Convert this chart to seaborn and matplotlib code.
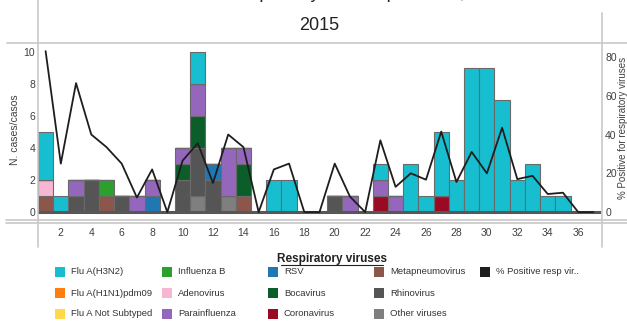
import numpy as np
import pandas as pd
import matplotlib
matplotlib.use('Agg')
import matplotlib.pyplot as plt
from matplotlib.lines import Line2D
from matplotlib.patches import Rectangle
import seaborn as sns

sns.set_style("white")
plt.rcParams['font.family'] = ['Liberation Sans', 'DejaVu Sans']

# ============================================================
# Data (weeks 1-37)
# ============================================================
weeks = list(range(1, 38))
flu_h3n2    = [3, 1, 0, 0, 0, 0, 0, 0, 0, 0, 2, 0, 0, 0, 0, 2, 2, 0, 0, 0, 0, 0, 1, 0, 3, 1, 4, 2, 9, 9, 7, 2, 3, 1, 1, 0, 0]
flu_h1n1    = [0] * 37
flu_notsub  = [0] * 37
influenza_b = [0, 0, 0, 0, 1, 0, 0, 0, 0, 0, 0, 0, 0, 0, 0, 0, 0, 0, 0, 0, 0, 0, 0, 0, 0, 0, 0, 0, 0, 0, 0, 0, 0, 0, 0, 0, 0]
adenovirus  = [1, 0, 0, 0, 0, 0, 0, 0, 0, 0, 0, 0, 0, 0, 0, 0, 0, 0, 0, 0, 0, 0, 0, 0, 0, 0, 0, 0, 0, 0, 0, 0, 0, 0, 0, 0, 0]
parainfl    = [0, 0, 1, 0, 0, 0, 1, 1, 0, 1, 2, 0, 3, 1, 0, 0, 0, 0, 0, 0, 1, 0, 1, 1, 0, 0, 0, 0, 0, 0, 0, 0, 0, 0, 0, 0, 0]
rsv         = [0, 0, 0, 0, 0, 0, 0, 1, 0, 0, 0, 1, 0, 0, 0, 0, 0, 0, 0, 0, 0, 0, 0, 0, 0, 0, 0, 0, 0, 0, 0, 0, 0, 0, 0, 0, 0]
bocavirus   = [0, 0, 0, 0, 0, 0, 0, 0, 0, 1, 2, 0, 0, 2, 0, 0, 0, 0, 0, 0, 0, 0, 0, 0, 0, 0, 0, 0, 0, 0, 0, 0, 0, 0, 0, 0, 0]
coronavirus = [0, 0, 0, 0, 0, 0, 0, 0, 0, 0, 0, 0, 0, 0, 0, 0, 0, 0, 0, 0, 0, 0, 1, 0, 0, 0, 1, 0, 0, 0, 0, 0, 0, 0, 0, 0, 0]
metapneumo  = [1, 0, 0, 0, 1, 0, 0, 0, 0, 0, 0, 0, 0, 1, 0, 0, 0, 0, 0, 0, 0, 0, 0, 0, 0, 0, 0, 0, 0, 0, 0, 0, 0, 0, 0, 0, 0]
rhinovirus  = [0, 0, 1, 2, 0, 1, 0, 0, 0, 2, 3, 2, 0, 0, 0, 0, 0, 0, 0, 1, 0, 0, 0, 0, 0, 0, 0, 0, 0, 0, 0, 0, 0, 0, 0, 0, 0]
other_vir   = [0, 0, 0, 0, 0, 0, 0, 0, 0, 0, 1, 0, 1, 0, 0, 0, 0, 0, 0, 0, 0, 0, 0, 0, 0, 0, 0, 0, 0, 0, 0, 0, 0, 0, 0, 0, 0]
pct_positive = [83, 25, 66.5, 40, 33.5, 25, 7.5, 22, 0, 26.5, 35.5, 15, 40, 33.5, 0, 22, 25, 0, 0, 25,
                8, 0, 37, 13, 20, 16.7, 41.5, 15.5, 31, 20, 43.5, 17, 18.7, 9.3, 10, 0, 0]

virus_names = ['Flu A(H3N2)', 'Flu A(H1N1)pdm09', 'Flu A Not Subtyped', 'Influenza B', 'Adenovirus',
               'Parainfluenza', 'RSV', 'Bocavirus', 'Coronavirus', 'Metapneumovirus', 'Rhinovirus',
               'Other viruses']
virus_counts = [flu_h3n2, flu_h1n1, flu_notsub, influenza_b, adenovirus, parainfl, rsv, bocavirus,
                coronavirus, metapneumo, rhinovirus, other_vir]
virus_colors = ['#17becf', '#ff7f0e', '#ffd94a', '#2ca02c', '#f7b6d2', '#9467bd', '#1f77b4',
                '#0b5e2a', '#9b0a25', '#8c564b', '#555555', '#7f7f7f']
line_label = '% Positive resp vir..'
line_color = '#1e1e1e'

df = pd.DataFrame([(w, name, c) for name, vals in zip(virus_names, virus_counts)
                   for w, c in zip(weeks, vals)], columns=['week', 'virus', 'count'])

# ============================================================
# Figure
# ============================================================
W, H = 627, 322
fig = plt.figure(figsize=(W / 100, H / 100), dpi=100)
ax = fig.add_axes([38 / W, 1 - 221 / H, (601 - 38) / W, (221 - 43) / H])

sns.histplot(data=df, x='week', weights='count', hue='virus', hue_order=virus_names,
             palette=dict(zip(virus_names, virus_colors)), multiple='stack', discrete=True,
             shrink=1, alpha=1, edgecolor='#6a6a6a', linewidth=0.8, legend=False, ax=ax)
ax.axhline(0, color='#575757', lw=2.2, zorder=5)
ax.set_xlim(0.5, 37.5)
ax.set_ylim(-0.56, 10.56)
ax.set_xticks(range(2, 37, 2))
ax.set_yticks(range(0, 11, 2))
ax.set_xlabel(''); ax.set_ylabel('')
ax.tick_params(length=0, labelsize=7.5, labelcolor='#404040')
ax.tick_params(axis='x', pad=5)
ax.tick_params(axis='y', pad=2)
for s in ax.spines.values():
    s.set_visible(False)

ax2 = ax.twinx()
sns.lineplot(x=weeks, y=pct_positive, ax=ax2, color=line_color, lw=1.3)
ax2.set_ylim(-4.6, 87.2)
ax2.set_yticks(range(0, 81, 20))
ax2.tick_params(length=0, labelsize=7.5, labelcolor='#404040', pad=3)
for s in ax2.spines.values():
    s.set_visible(False)

# frame lines (table-like)
def px_line(x0, y0, x1, y1, color='#c8c8c8', lw=1.2):
    fig.add_artist(Line2D([x0 / W, x1 / W], [1 - y0 / H, 1 - y1 / H], color=color, lw=lw,
                          transform=fig.transFigure))

px_line(38, 0, 38, 247)
px_line(602, 13, 602, 247)
px_line(7, 43, 627, 43)
px_line(6, 220, 627, 220)
px_line(6, 222.5, 627, 222.5)

# titles / labels
fig.text(0.51, 1 + 2 / H, 'Distribution of respiratory viruses per week, 2014 -', ha='center',
         va='baseline', fontsize=13, color='#222222')
fig.text(319 / W, 1 - 25 / H, '2015', ha='center', va='center', fontsize=13, color='#222222')
fig.text(15 / W, 1 - 130 / H, 'N. cases/casos', rotation=90, ha='center', va='center',
         fontsize=7.5, color='#404040')
fig.text(623 / W, 1 - 128 / H, '% Positive for respiratory viruses', rotation=90, ha='center',
         va='center', fontsize=7, color='#404040')

# legend
fig.text(332 / W, 1 - 259 / H, 'Respiratory viruses', ha='center', va='center', fontsize=8.5,
         fontweight='bold', color='#222222')
px_line(281, 265, 383, 265, color='#222222', lw=0.8)

col_x = [55, 162, 268, 374, 480]
row_y = [272, 293, 314]
entries = list(zip(virus_names, virus_colors)) + [(line_label, line_color)]
for i, (name, col) in enumerate(entries):
    cx, ry = col_x[i // 3], row_y[i % 3]
    fig.add_artist(Rectangle((cx / W, 1 - (ry + 5) / H), 10 / W, 10 / H, facecolor=col,
                             edgecolor='none', transform=fig.transFigure))
    fig.text((cx + 16) / W, 1 - ry / H, name, ha='left', va='center', fontsize=6.8,
             color='#333333')

fig.savefig('out.png', dpi=100)
